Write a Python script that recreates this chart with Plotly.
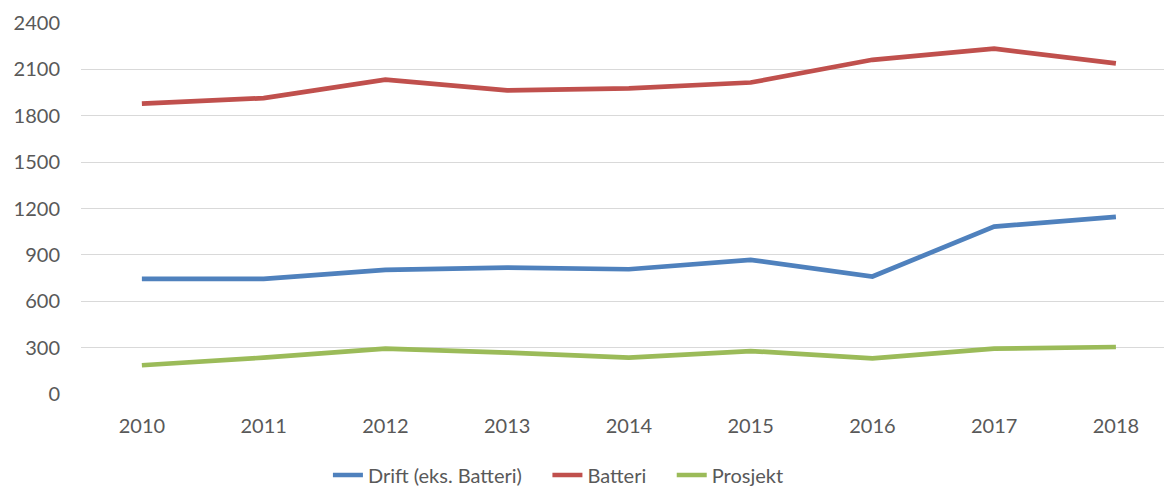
import plotly.graph_objects as go

years = ["2010", "2011", "2012", "2013", "2014", "2015", "2016", "2017", "2018"]
drift = [745, 745, 803, 818, 807, 868, 760, 1083, 1146]
batteri = [1879, 1914, 2033, 1964, 1977, 2015, 2162, 2234, 2139]
prosjekt = [186, 235, 293, 268, 235, 278, 231, 293, 304]
y_ticks = [0, 300, 600, 900, 1200, 1500, 1800, 2100, 2400]

names = ["Drift (eks. Batteri)", "Batteri", "Prosjekt"]
colors = ["#4F81BD", "#C0504D", "#9BBB59"]
pad = "\u00a0\u00a0\u00a0\u00a0"

fig = go.Figure()
for name, vals, col in zip(names, [drift, batteri, prosjekt], colors):
    fig.add_trace(go.Scatter(x=years, y=vals, mode="lines", name=name + pad,
                             line=dict(color=col, width=4.7)))

font = dict(family="Lato, 'Open Sans', sans-serif", size=20, color="#595959")
fig.update_layout(
    width=1164, height=488,
    margin=dict(l=81, r=0, t=23, b=94, autoexpand=False),
    plot_bgcolor="white", paper_bgcolor="white",
    font=font,
    showlegend=True,
    legend=dict(orientation="h", x=0.228, xref="paper", xanchor="left",
                yref="container", y=1 - 475 / 488, yanchor="middle",
                font=font, tracegroupgap=0, bgcolor="rgba(0,0,0,0)"),
    xaxis=dict(type="category", range=[-0.5, 8.395], showgrid=False, zeroline=False,
               showline=False, ticks="", tickfont=font, ticklabelstandoff=18),
    yaxis=dict(range=[0, 2400], tickvals=y_ticks, showgrid=True, gridcolor="#D9D9D9",
               gridwidth=1.3, zeroline=False, showline=False, ticks="",
               tickfont=font, ticklabelstandoff=20),
)
fig.write_html("out.html", config={"displayModeBar": False},
               post_script="document.body.style.margin='0';document.body.style.padding='0';")
